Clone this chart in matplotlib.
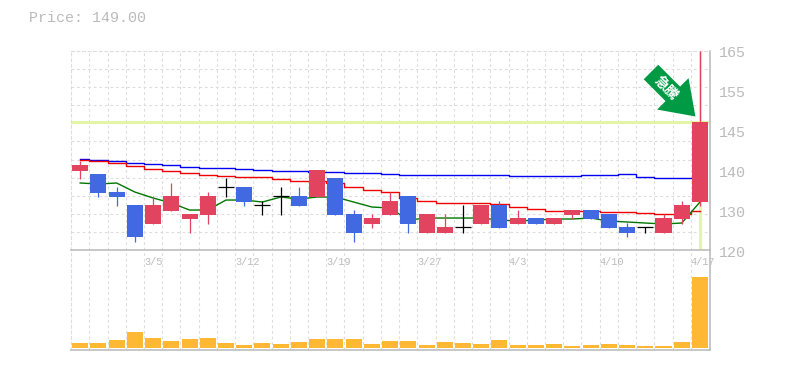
import numpy as np
import matplotlib
matplotlib.use('Agg')
from matplotlib import pyplot as plt
from matplotlib.transforms import blended_transform_factory

# candle data (price units)
opens = [137.86, 137.19, 133.11, 130.17, 125.88, 128.82, 127.01, 127.91, 134.24, 134.24, 130.17, 132.21,
         132.21, 131.98, 136.28, 128.14, 125.88, 127.91, 132.21, 123.84, 123.84, 125.20, 125.88, 130.17,
         125.88, 127.23, 125.88, 127.91, 129.04, 128.14, 125.20, 125.20, 123.84, 127.01, 130.85]
closes = [139.22, 132.89, 131.98, 122.94, 130.17, 132.21, 128.14, 132.21, 134.24, 130.85, 130.17, 132.21,
          129.95, 138.09, 127.91, 123.84, 127.23, 131.08, 125.88, 128.14, 125.20, 125.20, 130.17, 124.97,
          127.23, 125.88, 127.23, 129.04, 127.01, 124.97, 123.84, 125.20, 127.23, 130.17, 149.0]
highs = [140.13, 137.19, 134.24, 130.17, 132.21, 135.15, 128.14, 133.11, 136.28, 134.24, 131.08, 134.24,
         134.24, 138.09, 136.28, 129.04, 128.14, 133.11, 132.21, 128.14, 128.14, 130.17, 130.17, 131.08,
         129.04, 127.23, 127.23, 129.04, 129.04, 128.14, 126.10, 125.20, 128.14, 131.08, 165.0]
lows = [136.05, 131.98, 129.95, 121.81, 125.88, 128.82, 123.84, 125.88, 131.98, 129.95, 127.91, 127.91,
        129.95, 131.98, 127.91, 121.81, 124.97, 127.91, 123.84, 123.84, 123.84, 123.84, 125.88, 124.97,
        125.88, 125.88, 125.88, 127.01, 127.01, 124.97, 122.94, 123.84, 123.84, 125.88, 129.95]
volumes = [5, 5, 8, 16, 10, 7, 9, 10, 5, 3, 5, 4, 6, 9, 9, 9, 4, 7,
           7, 3, 6, 5, 4, 8, 3, 3, 4, 2, 3, 4, 3, 2, 2, 6, 71]

ma_short = [135.15, 134.92, 135.15, 133.11, 131.76, 130.63, 129.04, 129.04, 131.30, 131.30, 130.85, 131.98,
            131.53, 131.98, 131.98, 130.85, 129.72, 129.49, 126.78, 127.23, 127.23, 127.23, 127.23, 126.78,
            126.56, 126.78, 127.01, 127.01, 127.23, 126.56, 126.33, 126.10, 125.88, 126.10, 130.85]
ma_mid = [140.35, 140.13, 139.67, 138.99, 138.31, 137.86, 137.41, 136.96, 136.73, 136.51, 136.51, 136.05,
          135.60, 135.60, 135.15, 134.24, 133.57, 133.11, 131.76, 131.08, 130.63, 130.63, 130.63, 130.40,
          129.72, 129.27, 128.82, 128.82, 128.82, 128.59, 128.59, 128.36, 128.14, 128.14, 128.82]
ma_long = [140.58, 140.35, 140.13, 139.67, 139.44, 139.22, 138.77, 138.54, 138.54, 138.31, 138.09, 137.86,
           137.86, 137.64, 137.64, 137.41, 137.41, 137.19, 136.96, 136.96, 136.96, 136.96, 136.96, 136.96,
           136.73, 136.73, 136.73, 136.73, 136.96, 136.96, 137.19, 136.51, 136.28, 136.28, 136.28]

date_labels = ['3/5', '3/12', '3/19', '3/27', '4/3', '4/10', '4/17']
date_idx = [4, 9, 14, 19, 24, 29, 34]
price_labels = ['165', '155', '145', '140', '130', '120']
price_pos = [164.5, 155.5, 146.4, 137.4, 128.4, 119.3]
last_price = 149.0

RED = '#e2445f'
BLUE = '#4169e1'
GRID = '#dddddd'
AXIS = '#bdbdbd'
TEXT = '#bbbbbb'
PALE = '#e3f6a8'
MONO = 'Liberation Mono'
DASH = (0, (2.5, 2.5))

W, H = 785, 370
fig = plt.figure(figsize=(W/100, H/100), dpi=100)
ax = fig.add_axes([70.5/W, 1-250/H, 639.5/W, 199/H], zorder=2)
vax = fig.add_axes([70.5/W, 1-350/H, 639.5/W, 100/H], sharex=ax, zorder=1)

x = np.arange(len(opens))

for a in (ax, vax):
    a.set_xlim(-0.53, 34.55)
    a.set_xticks(x[:-1] + 0.5)
    a.tick_params(length=0, labelbottom=False, labelleft=False)
    a.grid(axis='x', color=GRID, ls=DASH, lw=0.8)
    a.set_axisbelow(True)
    a.patch.set_alpha(0)
    for s in ('top', 'left'):
        a.spines[s].set_color(GRID)
        a.spines[s].set_linestyle(DASH)
        a.spines[s].set_linewidth(0.8)
    for s in ('bottom', 'right'):
        a.spines[s].set_color(AXIS)
        a.spines[s].set_linewidth(1.2)
vax.spines['top'].set_visible(False)

ax.set_ylim(120, 165)
ax.set_yticks(np.linspace(120, 165, 12)[1:-1])
ax.grid(axis='y', color=GRID, ls=DASH, lw=0.8)

# current price crosshair
ax.axhline(last_price, color=PALE, lw=2.2, zorder=1.5)
ax.axvline(x[-1], color=PALE, lw=2.2, zorder=1.5)

ax.plot(x, ma_long, color='#0000ee', lw=1.0, zorder=2, drawstyle='steps-mid')
ax.plot(x, ma_mid, color='#ee0000', lw=1.0, zorder=2, drawstyle='steps-mid')
ax.plot(x, ma_short, color='#007700', lw=1.0, zorder=2)

for i in x:
    o, c = opens[i], closes[i]
    if o == c:
        ax.vlines(i, lows[i], highs[i], color='black', lw=0.9, zorder=3)
        ax.hlines(c, i-0.44, i+0.44, color='black', lw=0.9, zorder=3)
        continue
    col = RED if c > o else BLUE
    ax.vlines(i, lows[i], highs[i], color=col, lw=0.9, zorder=3)
    ax.bar(i, abs(c-o), bottom=min(o, c), width=0.88, color=col, zorder=3)

vax.bar(x, volumes, width=0.88, color='#ffb833', zorder=3)
vax.set_ylim(-2, 98)

# arrow pointing at the last candle
ax.annotate('', xy=(33.75, 150.2), xytext=(-32, 32), textcoords='offset points',
            arrowprops=dict(facecolor='#009944', edgecolor='none', width=14.8,
                            headwidth=32, headlength=23, shrink=0), zorder=5)
ax.text(0.931, 0.814, '急騰', transform=ax.transAxes, rotation=-45, ha='center', va='center',
        color='white', fontsize=10, fontweight='bold', family=['Noto Sans CJK JP', 'DejaVu Sans'],
        zorder=6, rotation_mode='anchor')

trans = blended_transform_factory(ax.transAxes, ax.transData)
for p, lab in zip(price_pos, price_labels):
    ax.text(1.0145, p, lab, transform=trans, color=TEXT, family=MONO, fontsize=10.8,
            ha='left', va='center', clip_on=False)

trans = blended_transform_factory(ax.transData, ax.transAxes)
for i, lab in zip(date_idx, date_labels):
    ax.text(i-0.5, -0.033, lab, transform=trans, color=TEXT, family=MONO, fontsize=7.4,
            ha='left', va='top', clip_on=False)

fig.text(29/W, 1-18/H, 'Price: 149.00', color=TEXT, family=MONO, fontsize=10.8, va='center')

fig.savefig('out.png', dpi=100)
